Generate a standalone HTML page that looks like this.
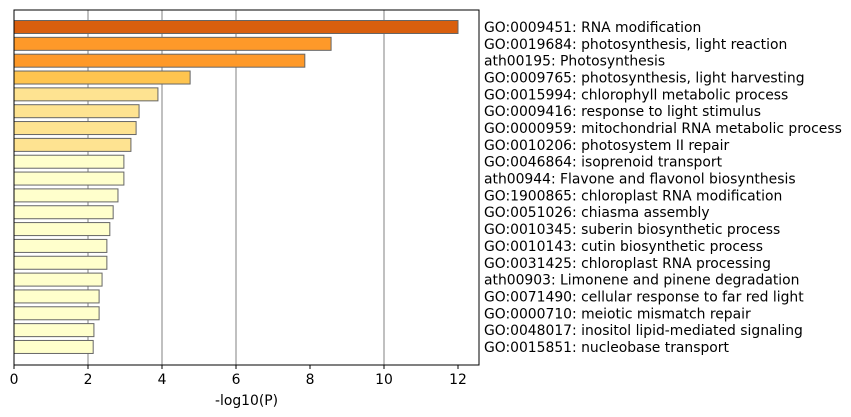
<!DOCTYPE html>
<html><head><meta charset="utf-8"><style>
body{margin:0;background:#fff;}
svg{display:block;font-family:"DejaVu Sans","Liberation Sans",sans-serif;}
</style></head><body>
<svg id="chart" width="851" height="417"></svg>
<script>
const labels=["GO:0009451: RNA modification","GO:0019684: photosynthesis, light reaction","ath00195: Photosynthesis","GO:0009765: photosynthesis, light harvesting","GO:0015994: chlorophyll metabolic process","GO:0009416: response to light stimulus","GO:0000959: mitochondrial RNA metabolic process","GO:0010206: photosystem II repair","GO:0046864: isoprenoid transport","ath00944: Flavone and flavonol biosynthesis","GO:1900865: chloroplast RNA modification","GO:0051026: chiasma assembly","GO:0010345: suberin biosynthetic process","GO:0010143: cutin biosynthetic process","GO:0031425: chloroplast RNA processing","ath00903: Limonene and pinene degradation","GO:0071490: cellular response to far red light","GO:0000710: meiotic mismatch repair","GO:0048017: inositol lipid-mediated signaling","GO:0015851: nucleobase transport"];
const values=[12.0,8.57,7.86,4.76,3.89,3.38,3.3,3.16,2.97,2.97,2.81,2.68,2.59,2.51,2.51,2.38,2.3,2.3,2.16,2.14];
const ticks=[0,2,4,6,8,10,12];
const gridTicks=[2,4,6,10];
const NS="http://www.w3.org/2000/svg";
const svg=document.getElementById('chart');
const L=14,R=479,T=10,B=365;
const x=v=>L+v*37;
const y=i=>27+i*16.84;
function mk(t,a){const e=document.createElementNS(NS,t);for(const k in a)e.setAttribute(k,a[k]);svg.appendChild(e);return e;}
function col(v){if(v>=10)return"#d95f0e";if(v>=6)return"#fe9929";if(v>=4)return"#fec44f";if(v>=3)return"#fee391";return"#ffffcc";}
gridTicks.forEach(t=>{const g=mk('line',{x1:x(t),x2:x(t),y1:T,y2:B,stroke:'#b0b0b0','stroke-width':1.6});

});
values.forEach((v,i)=>{const r=mk('rect',{x:L,y:y(i)-6.5,width:x(v)-L,height:13,fill:col(v),stroke:'#666','stroke-width':1});


const t=mk('text',{x:484,y:y(i)+5,'font-size':13.9,fill:'#000'});t.textContent=labels[i];

});
const fr=mk('rect',{x:L,y:T,width:R-L,height:B-T,fill:'none',stroke:'#000','stroke-width':1});


ticks.forEach(t=>{const l=mk('line',{x1:x(t),x2:x(t),y1:B,y2:B+4,stroke:'#000'});


const tx=mk('text',{x:x(t),y:B+19,'font-size':13.9,'text-anchor':'middle'});tx.textContent=t;

});
const xt=mk('text',{x:(L+R)/2,y:405,'font-size':13.9,'text-anchor':'middle'});xt.textContent='-log10(P)';


</script>
</body></html>
